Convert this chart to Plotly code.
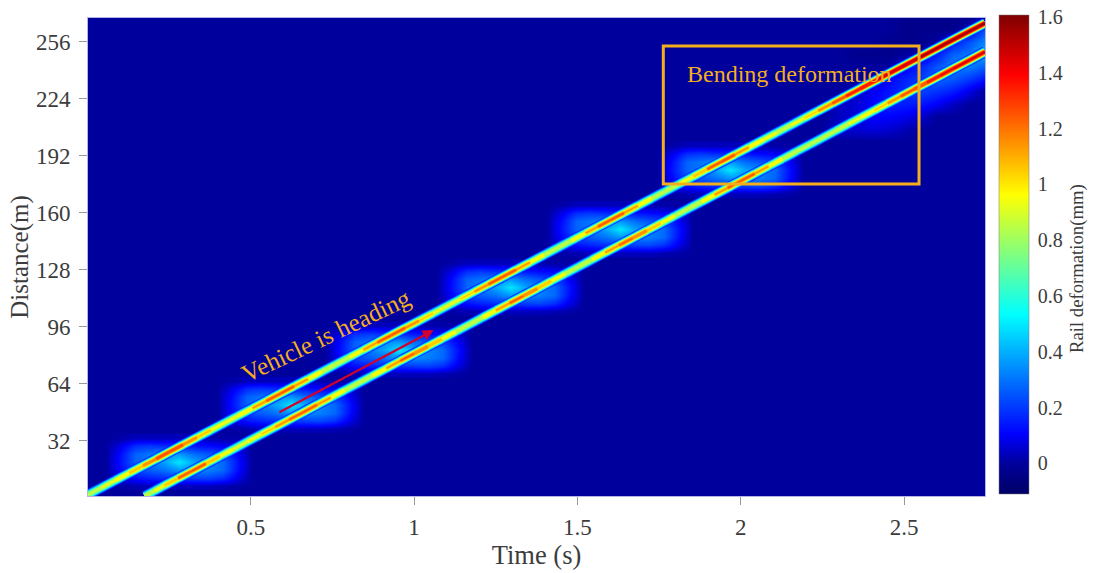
import math
import plotly.graph_objects as go
from plotly.colors import sample_colorscale

# ---- data ----
x_tick_vals = [0.5, 1, 1.5, 2, 2.5]
x_tick_text = ["0.5", "1", "1.5", "2", "2.5"]
y_tick_vals = [32, 64, 96, 128, 160, 192, 224, 256]
cbar_tick_vals = [0, 0.2, 0.4, 0.6, 0.8, 1, 1.2, 1.4, 1.6]
cbar_tick_text = ["0", "0.2", "0.4", "0.6", "0.8", "1", "1.2", "1.4", "1.6"]

upper_time = [0, .0425, .085, .1275, .17, .21, .25, .2925, .335, .3775, .42, .4625, .505, .5475, .59, .6325,
              .675, .7175, .76, .8025, .845, .8875, .93, .9725, 1.015, 1.0575, 1.10, 1.1425, 1.185, 1.2275,
              1.27, 1.3125, 1.355, 1.3975, 1.44, 1.4825, 1.525, 1.5625, 1.60, 1.6425, 1.685, 1.7275, 1.77,
              1.8125, 1.855, 1.8975, 1.94, 1.9825, 2.025, 2.0675, 2.11, 2.1525, 2.195, 2.2375, 2.28, 2.3225,
              2.365, 2.4075, 2.45, 2.4925, 2.535, 2.5775, 2.62, 2.684, 2.748]
upper_dist = [1.4, 5.5, 9.6, 13.7, 17.8, 21.6, 25.5, 29.6, 33.7, 37.8, 41.9, 46, 50.1, 54.2, 58.3, 62.4,
              66.5, 70.6, 74.7, 78.8, 82.9, 87, 91.1, 95.2, 99.2, 103.3, 107.4, 111.5, 115.6, 119.7,
              123.8, 127.9, 132, 136.1, 140.2, 144.3, 148.4, 152, 155.6, 159.7, 163.8, 167.9, 172,
              176.1, 180.2, 184.3, 188.4, 192.5, 196.6, 200.7, 204.8, 208.9, 213, 217.1, 221.2, 225.3,
              229.4, 233.5, 237.6, 241.7, 245.8, 249.9, 254, 260.2, 266.3]
upper_peak = [.9, .92, 1.0, 1.08, 1.18, 1.28, 1.38, 1.28, 1.15, 1.03, .95, 1.0, 1.1, 1.22, 1.32, 1.22,
              1.1, .98, .92, .98, 1.1, 1.22, 1.32, 1.24, 1.14, 1.0, .92, 1.0, 1.12, 1.24,
              1.32, 1.22, 1.1, .98, .9, .98, 1.1, 1.22, 1.32, 1.22, 1.1, .96, .88,
              .96, 1.06, 1.2, 1.34, 1.24, 1.1, 1.0, .95, .95, 1.0, 1.12, 1.25, 1.35,
              1.42, 1.47, 1.5, 1.53, 1.55, 1.57, 1.58, 1.58, 1.58]

lower_time = [.175, .205, .235, .2775, .32, .3625, .405, .4475, .49, .5325, .575, .6175, .66, .7025, .745, .7875,
              .83, .8725, .915, .9575, 1.0, 1.0425, 1.085, 1.1275, 1.17, 1.21, 1.25, 1.2925, 1.335, 1.3775,
              1.42, 1.4625, 1.505, 1.545, 1.585, 1.6275, 1.67, 1.7125, 1.755, 1.7975, 1.84, 1.88, 1.92, 1.96,
              2.0, 2.0425, 2.085, 2.1275, 2.17, 2.21, 2.25, 2.29, 2.33, 2.37, 2.41, 2.45, 2.49, 2.53, 2.57,
              2.61, 2.65, 2.70, 2.748]
lower_dist = [.8, 3.7, 6.7, 10.8, 14.9, 19, 23.1, 27.2, 31.4, 35.5, 39.6, 43.7, 47.8, 52, 56.1, 60.2,
              64.3, 68.4, 72.5, 76.7, 80.8, 84.9, 89, 93.1, 97.2, 101.1, 105, 109.1, 113.2, 117.3,
              121.5, 125.6, 129.7, 133.6, 137.5, 141.6, 145.7, 149.8, 153.9, 158, 162.2, 166, 169.9, 173.8,
              177.7, 181.8, 185.9, 190, 194.2, 198, 201.9, 205.8, 209.7, 213.6, 217.4, 221.3, 225.2, 229.1, 232.9,
              236.8, 240.7, 245.5, 250.2]
lower_peak = [.9, .95, 1.02, 1.18, 1.35, 1.2, 1.05, .96, .95, 1.02, 1.12, 1.22, 1.3, 1.22, 1.1, .98,
              .9, 1.0, 1.1, 1.22, 1.3, 1.2, 1.1, .98, .9, 1.0, 1.1, 1.22, 1.3, 1.18,
              1.05, .96, .9, 1.0, 1.1, 1.22, 1.3, 1.18, 1.05, .96, .9, 1.0, 1.1, 1.22,
              1.32, 1.22, 1.1, .98, .9, .9, .9, .92, .95, .98, 1.02, 1.12, 1.25, 1.32, 1.38,
              1.44, 1.47, 1.48, 1.48]

patch_time = [.28, .622, .953, 1.295, 1.63, 1.968]
patch_dist = [20, 52, 83, 118, 150.7, 184]
patch_dt = [-.225, -.18, -.135, -.09, -.045, 0, .045, .09, .135, .18, .225]
patch_dd = [-13.5, -9, -4.5, 0, 4.5, 9, 13.5]
patch_z = [
    [0, .01, .02, .03, .03, .03, .03, .03, .02, .01, 0],
    [0, .07, .13, .16, .18, .19, .21, .22, .18, .08, 0],
    [0, .11, .23, .26, .30, .36, .34, .32, .28, .12, 0],
    [0, .13, .27, .31, .38, .50, .38, .33, .28, .13, 0],
    [0, .12, .27, .30, .34, .36, .29, .25, .21, .10, 0],
    [0, .08, .18, .20, .18, .17, .14, .12, .10, .05, 0],
    [0, .01, .03, .03, .03, .03, .03, .02, .01, .01, 0],
]

end_time = [2.25, 2.3, 2.35, 2.4, 2.45, 2.5, 2.55, 2.6, 2.65, 2.7, 2.75]
end_dist = [200, 207, 214, 221, 228, 235, 242, 249, 256, 263, 270]
end_z = [
    [0, 0, 0, 0, 0, 0, 0, 0, 0, 0, 0],
    [0, .05, .06, .07, .06, .03, 0, 0, 0, 0, 0],
    [0, .04, .06, .11, .11, .09, .06, 0, 0, 0, 0],
    [0, .04, .06, .10, .16, .15, .14, .10, .04, 0, 0],
    [0, 0, .03, .09, .13, .18, .22, .19, .15, .08, 0],
    [0, 0, 0, .02, .10, .16, .20, .28, .25, .20, .13],
    [0, 0, 0, 0, 0, .08, .16, .24, .32, .32, .27],
    [0, 0, -.03, -.03, -.03, 0, .02, .14, .27, .30, .40],
    [0, 0, 0, 0, -.03, -.03, -.03, 0, .14, .24, .34],
    [0, 0, 0, 0, 0, -.03, -.03, -.03, -.03, .05, .24],
    [0, 0, 0, 0, 0, -.03, -.03, -.03, -.03, -.03, .03],
]

box_time = [1.763, 2.546]
box_dist = [176, 253.5]
arrow_time = [.583, 1.06]
arrow_dist = [47.4, 94]

# ---- styles ----
SERIF = "Liberation Serif"
ORANGE = "#f4ae1c"
TEXT = "#3c3c3c"
ZMIN, ZMAX = -0.11, 1.607
JET = [[0, "#000066"], [.064, "#00009c"], [.125, "#0000ff"], [.375, "#00ffff"],
       [.625, "#ffff00"], [.875, "#ff0000"], [1, "#7f0000"]]
LEVELS = [.15, .25, .35, .45, .55, .65, .75, .85, .95, 1.05, 1.15, 1.25, 1.35, 1.45, 1.55]
BAND = 11.5


def col(v):
    return sample_colorscale(JET, [(v - ZMIN) / (ZMAX - ZMIN)])[0]


fig = go.Figure()

for i, (pt, pd_) in enumerate(zip(patch_time, patch_dist)):
    fig.add_trace(go.Heatmap(
        x=[pt + d for d in patch_dt], y=[pd_ + d for d in patch_dd], z=patch_z,
        zmin=ZMIN, zmax=ZMAX, colorscale=JET, zsmooth="best", hoverinfo="skip",
        showscale=i == 0,
        colorbar=dict(
            x=1.0156, xanchor="left", xpad=0, y=1.006, yanchor="top", ypad=0,
            lenmode="pixels", len=479, thickness=30, thicknessmode="pixels",
            outlinewidth=0.5, outlinecolor="#777777",
            tickmode="array", tickvals=cbar_tick_vals, ticktext=cbar_tick_text,
            ticks="outside", ticklen=5, tickcolor="rgba(0,0,0,0)",
            tickfont=dict(family=SERIF, size=20, color=TEXT)),
    ))

fig.add_trace(go.Heatmap(x=end_time, y=end_dist, z=end_z, zmin=ZMIN, zmax=ZMAX, colorscale=JET,
                         zsmooth="best", showscale=False, hoverinfo="skip"))

# rail traces: nested bands; the width of each colour band follows the peak read at that point
for times, dists, peaks in ((upper_time, upper_dist, upper_peak), (lower_time, lower_dist, lower_peak)):
    for lev in LEVELS:
        groups = {}
        for k in range(len(times) - 1):
            p = (peaks[k] + peaks[k + 1]) / 2
            if p > lev:
                w = round(BAND * (math.log(p / lev) / math.log(p / .1)) ** .38, 1)
                xs, ys = groups.setdefault(w, ([], []))
                xs += [times[k], times[k + 1], None]
                ys += [dists[k], dists[k + 1], None]
        for w, (xs, ys) in sorted(groups.items(), reverse=True):
            fig.add_trace(go.Scatter(x=xs, y=ys, mode="lines", line=dict(color=col(lev), width=w),
                                     hoverinfo="skip", showlegend=False))

fig.add_shape(type="rect", x0=box_time[0], x1=box_time[1], y0=box_dist[0], y1=box_dist[1],
              line=dict(color=ORANGE, width=3))

fig.add_annotation(x=arrow_time[1], y=arrow_dist[1], ax=arrow_time[0], ay=arrow_dist[0],
                   xref="x", yref="y", axref="x", ayref="y", text="", showarrow=True,
                   arrowhead=2, arrowsize=1, arrowwidth=2.2, arrowcolor="#d2002a")

fig.add_annotation(x=(685 - 87.5) / 897.5, y=(496 - 74) / 478, xref="paper", yref="paper", xanchor="left",
                   yanchor="middle", text="Bending deformation", showarrow=False,
                   font=dict(family=SERIF, size=24, color=ORANGE))
fig.add_annotation(x=(326 - 87.5) / 897.5, y=(496 - 335) / 478, xref="paper", yref="paper", xanchor="center",
                   yanchor="middle", text="Vehicle is heading", textangle=-25.5, showarrow=False,
                   font=dict(family=SERIF, size=25, color=ORANGE))
fig.add_annotation(x=(1077 - 87.5) / 897.5, y=(496 - 268) / 478, xref="paper", yref="paper", xanchor="center",
                   yanchor="middle", text="Rail deformation(mm)", textangle=-90, showarrow=False,
                   font=dict(family=SERIF, size=18.7, color=TEXT))

fig.update_layout(
    width=1094, height=573, autosize=False,
    margin=dict(l=87.5, r=109, t=18, b=77, pad=0),
    paper_bgcolor="white", plot_bgcolor="#00009c", showlegend=False,
    font=dict(family=SERIF, color=TEXT),
    xaxis=dict(range=[.0015, 2.748], tickmode="array", tickvals=x_tick_vals, ticktext=x_tick_text,
               ticks="outside", ticklen=8, tickcolor="#9a9a9a", tickwidth=1, showgrid=False, zeroline=False,
               showline=True, linecolor="#b4b4e6", linewidth=1, mirror=True, automargin=False,
               tickfont=dict(size=23, color=TEXT), ticklabelstandoff=2,
               title=dict(text="Time (s)", font=dict(size=26.5, color=TEXT), standoff=5)),
    yaxis=dict(range=[.84, 269.2], tickmode="array", tickvals=y_tick_vals,
               ticks="outside", ticklen=8, tickcolor="#9a9a9a", tickwidth=1, showgrid=False, zeroline=False,
               showline=True, linecolor="#b4b4e6", linewidth=1, mirror=True, automargin=False,
               tickfont=dict(size=23, color=TEXT), ticklabelstandoff=4,
               title=dict(text="Distance(m)", font=dict(size=25, color=TEXT), standoff=0)),
)

fig.write_html("out.html", config={"displayModeBar": False}, post_script="document.body.style.margin='0';")
